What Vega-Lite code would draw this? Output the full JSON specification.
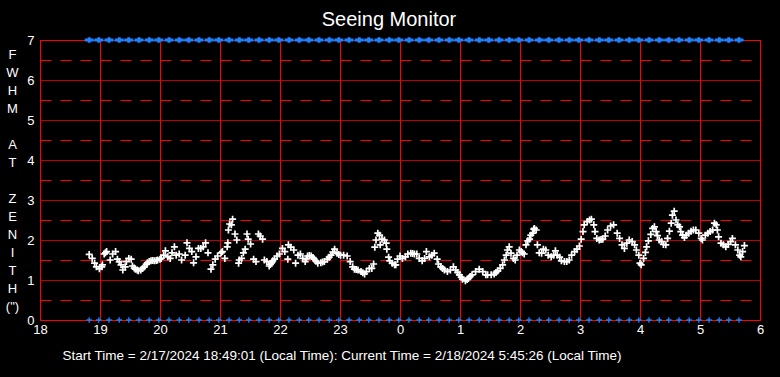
{
  "$schema": "https://vega.github.io/schema/vega-lite/v6.json",
  "width": 720,
  "height": 280,
  "autosize": {"type": "none"},
  "padding": {"left": 40, "top": 40, "right": 20, "bottom": 57},
  "background": "black",
  "title": {"text": "Seeing Monitor", "color": "white", "fontSize": 20, "font": "Liberation Sans", "fontWeight": "normal", "anchor": "middle", "frame": "group", "dx": -11, "offset": 1},
  "config": {
    "view": {"stroke": "#ff0000", "strokeWidth": 1},
    "axis": {"gridColor": "#ff0000", "gridOpacity": 1, "gridWidth": 1, "domainColor": "#ff0000", "ticks": false, "labelColor": "white", "labelFont": "Liberation Sans", "labelFontSize": 13, "titleColor": "white", "titleFont": "Liberation Sans", "titleFontWeight": "normal"}
  },
  "datasets": {
    "seeing": [
      {"t":18.82,"v":1.64},{"t":18.87,"v":1.54},{"t":18.91,"v":1.42},{"t":18.94,"v":1.33},{"t":18.99,"v":1.28},{"t":19.03,"v":1.33},{"t":19.04,"v":1.38},{"t":19.07,"v":1.65},{"t":19.09,"v":1.68},{"t":19.11,"v":1.71},{"t":19.17,"v":1.5},{"t":19.21,"v":1.65},{"t":19.26,"v":1.71},{"t":19.29,"v":1.52},{"t":19.32,"v":1.46},{"t":19.35,"v":1.38},{"t":19.38,"v":1.25},{"t":19.42,"v":1.33},{"t":19.44,"v":1.46},{"t":19.48,"v":1.54},{"t":19.52,"v":1.52},{"t":19.54,"v":1.35},{"t":19.57,"v":1.3},{"t":19.59,"v":1.27},{"t":19.62,"v":1.25},{"t":19.64,"v":1.23},{"t":19.68,"v":1.25},{"t":19.71,"v":1.29},{"t":19.74,"v":1.33},{"t":19.77,"v":1.39},{"t":19.79,"v":1.43},{"t":19.82,"v":1.46},{"t":19.85,"v":1.48},{"t":19.88,"v":1.49},{"t":19.91,"v":1.48},{"t":19.94,"v":1.49},{"t":19.96,"v":1.5},{"t":20.0,"v":1.52},{"t":20.02,"v":1.54},{"t":20.06,"v":1.62},{"t":20.09,"v":1.73},{"t":20.13,"v":1.58},{"t":20.17,"v":1.54},{"t":20.2,"v":1.68},{"t":20.24,"v":1.83},{"t":20.27,"v":1.62},{"t":20.32,"v":1.65},{"t":20.36,"v":1.5},{"t":20.42,"v":1.62},{"t":20.45,"v":1.93},{"t":20.49,"v":1.79},{"t":20.53,"v":1.71},{"t":20.56,"v":1.43},{"t":20.6,"v":1.58},{"t":20.64,"v":1.79},{"t":20.68,"v":1.79},{"t":20.72,"v":1.83},{"t":20.76,"v":1.93},{"t":20.8,"v":1.68},{"t":20.85,"v":1.27},{"t":20.88,"v":1.38},{"t":20.92,"v":1.52},{"t":20.96,"v":1.6},
      {"t":21.02,"v":1.68},{"t":21.04,"v":1.71},{"t":21.08,"v":1.54},{"t":21.12,"v":1.83},{"t":21.13,"v":1.93},{"t":21.14,"v":2.25},{"t":21.16,"v":2.4},{"t":21.19,"v":2.38},{"t":21.21,"v":2.52},{"t":21.25,"v":2.15},{"t":21.28,"v":2.0},{"t":21.31,"v":1.42},{"t":21.32,"v":1.5},{"t":21.36,"v":1.54},{"t":21.39,"v":1.68},{"t":21.42,"v":1.77},{"t":21.45,"v":2.15},{"t":21.47,"v":2.02},{"t":21.51,"v":1.9},{"t":21.56,"v":1.52},{"t":21.6,"v":1.46},{"t":21.64,"v":2.15},{"t":21.67,"v":2.1},{"t":21.71,"v":2.02},{"t":21.74,"v":1.5},{"t":21.78,"v":1.46},{"t":21.82,"v":1.35},{"t":21.84,"v":1.39},{"t":21.86,"v":1.43},{"t":21.88,"v":1.48},{"t":21.91,"v":1.52},{"t":21.95,"v":1.6},{"t":21.99,"v":1.65},{"t":22.04,"v":1.79},{"t":22.08,"v":1.71},{"t":22.13,"v":1.52},{"t":22.14,"v":1.88},{"t":22.18,"v":1.82},{"t":22.23,"v":1.75},{"t":22.26,"v":1.42},{"t":22.3,"v":1.62},{"t":22.34,"v":1.65},{"t":22.38,"v":1.54},{"t":22.42,"v":1.46},{"t":22.44,"v":1.53},{"t":22.46,"v":1.6},{"t":22.49,"v":1.61},{"t":22.52,"v":1.6},{"t":22.55,"v":1.56},{"t":22.57,"v":1.52},{"t":22.6,"v":1.47},{"t":22.63,"v":1.42},{"t":22.68,"v":1.43},{"t":22.71,"v":1.45},{"t":22.74,"v":1.46},{"t":22.79,"v":1.52},{"t":22.82,"v":1.57},{"t":22.85,"v":1.62},{"t":22.88,"v":1.7},{"t":22.91,"v":1.77},{"t":22.95,"v":1.67},{"t":22.98,"v":1.64},{"t":23.01,"v":1.62},{"t":23.06,"v":1.62},{"t":23.12,"v":1.6},{"t":23.17,"v":1.46},{"t":23.21,"v":1.33},
      {"t":23.24,"v":1.27},{"t":23.27,"v":1.26},{"t":23.3,"v":1.25},{"t":23.35,"v":1.21},{"t":23.38,"v":1.18},{"t":23.41,"v":1.15},{"t":23.44,"v":1.21},{"t":23.49,"v":1.29},{"t":23.53,"v":1.29},{"t":23.56,"v":1.4},{"t":23.58,"v":1.82},{"t":23.6,"v":2.0},{"t":23.63,"v":2.17},{"t":23.66,"v":2.12},{"t":23.67,"v":1.88},{"t":23.7,"v":2.02},{"t":23.74,"v":2.0},{"t":23.77,"v":1.92},{"t":23.78,"v":1.77},{"t":23.81,"v":1.57},{"t":23.83,"v":1.48},{"t":23.87,"v":1.42},{"t":23.91,"v":1.38},{"t":23.93,"v":1.38},{"t":23.96,"v":1.52},{"t":24.0,"v":1.6},{"t":24.04,"v":1.54},{"t":24.09,"v":1.58},{"t":24.13,"v":1.65},{"t":24.18,"v":1.67},{"t":24.21,"v":1.66},{"t":24.24,"v":1.65},{"t":24.28,"v":1.65},{"t":24.32,"v":1.54},{"t":24.37,"v":1.48},{"t":24.41,"v":1.54},{"t":24.44,"v":1.71},{"t":24.49,"v":1.58},{"t":24.53,"v":1.62},{"t":24.57,"v":1.67},{"t":24.62,"v":1.52},{"t":24.64,"v":1.4},{"t":24.68,"v":1.33},{"t":24.71,"v":1.29},{"t":24.74,"v":1.25},{"t":24.79,"v":1.21},{"t":24.84,"v":1.25},{"t":24.89,"v":1.33},{"t":24.93,"v":1.25},{"t":24.96,"v":1.19},{"t":24.99,"v":1.13},{"t":25.02,"v":1.07},{"t":25.04,"v":1.02},{"t":25.09,"v":0.98},{"t":25.12,"v":1.01},{"t":25.14,"v":1.04},{"t":25.17,"v":1.09},{"t":25.2,"v":1.13},{"t":25.26,"v":1.21},{"t":25.32,"v":1.27},{"t":25.38,"v":1.21},{"t":25.43,"v":1.13},
      {"t":25.46,"v":1.13},{"t":25.52,"v":1.13},{"t":25.57,"v":1.15},{"t":25.6,"v":1.19},{"t":25.63,"v":1.23},{"t":25.67,"v":1.29},{"t":25.71,"v":1.38},{"t":25.74,"v":1.5},{"t":25.77,"v":1.62},{"t":25.79,"v":1.75},{"t":25.82,"v":1.83},{"t":25.85,"v":1.67},{"t":25.89,"v":1.54},{"t":25.92,"v":1.5},{"t":25.95,"v":1.62},{"t":25.99,"v":1.75},{"t":26.02,"v":1.71},{"t":26.04,"v":1.68},{"t":26.07,"v":1.65},{"t":26.1,"v":1.88},{"t":26.13,"v":1.98},{"t":26.16,"v":2.02},{"t":26.18,"v":2.12},{"t":26.21,"v":2.17},{"t":26.23,"v":2.27},{"t":26.24,"v":2.29},{"t":26.27,"v":2.25},{"t":26.29,"v":1.88},{"t":26.32,"v":1.68},{"t":26.36,"v":1.67},{"t":26.39,"v":1.77},{"t":26.43,"v":1.75},{"t":26.47,"v":1.62},{"t":26.52,"v":1.58},{"t":26.56,"v":1.62},{"t":26.59,"v":1.73},{"t":26.62,"v":1.62},{"t":26.66,"v":1.57},{"t":26.69,"v":1.48},{"t":26.74,"v":1.46},{"t":26.78,"v":1.46},{"t":26.82,"v":1.5},{"t":26.86,"v":1.62},{"t":26.91,"v":1.71},{"t":26.95,"v":1.77},{"t":26.99,"v":1.85},{"t":27.02,"v":2.02},{"t":27.05,"v":2.21},{"t":27.07,"v":2.38},{"t":27.12,"v":2.46},{"t":27.16,"v":2.5},{"t":27.19,"v":2.52},{"t":27.23,"v":2.38},{"t":27.25,"v":2.21},{"t":27.28,"v":2.04},{"t":27.32,"v":2.0},{"t":27.35,"v":2.01},{"t":27.38,"v":2.02},{"t":27.42,"v":2.1},{"t":27.46,"v":2.25},{"t":27.51,"v":2.35},{"t":27.56,"v":2.38},{"t":27.62,"v":2.17},{"t":27.66,"v":2.04},{"t":27.7,"v":1.88},
      {"t":27.74,"v":1.79},{"t":27.78,"v":1.92},{"t":27.82,"v":2.0},{"t":27.87,"v":1.96},{"t":27.91,"v":1.88},{"t":27.94,"v":1.75},{"t":27.98,"v":1.62},{"t":28.0,"v":1.42},{"t":28.02,"v":1.38},{"t":28.06,"v":1.54},{"t":28.09,"v":1.69},{"t":28.11,"v":1.83},{"t":28.14,"v":1.98},{"t":28.18,"v":2.14},{"t":28.21,"v":2.29},{"t":28.24,"v":2.33},{"t":28.27,"v":2.21},{"t":28.29,"v":2.11},{"t":28.32,"v":2.0},{"t":28.36,"v":1.96},{"t":28.39,"v":1.89},{"t":28.43,"v":1.88},{"t":28.46,"v":2.04},{"t":28.49,"v":2.22},{"t":28.52,"v":2.42},{"t":28.54,"v":2.62},{"t":28.57,"v":2.72},{"t":28.6,"v":2.5},{"t":28.63,"v":2.38},{"t":28.66,"v":2.33},{"t":28.68,"v":2.21},{"t":28.71,"v":2.12},{"t":28.74,"v":2.06},{"t":28.77,"v":2.12},{"t":28.81,"v":2.17},{"t":28.85,"v":2.22},{"t":28.89,"v":2.25},{"t":28.93,"v":2.25},{"t":28.98,"v":2.17},{"t":29.02,"v":2.04},{"t":29.04,"v":2.0},{"t":29.09,"v":2.12},{"t":29.13,"v":2.17},{"t":29.17,"v":2.21},{"t":29.21,"v":2.25},{"t":29.24,"v":2.42},{"t":29.27,"v":2.38},{"t":29.29,"v":2.25},{"t":29.31,"v":2.08},{"t":29.35,"v":1.92},{"t":29.39,"v":1.88},{"t":29.43,"v":1.83},{"t":29.47,"v":1.89},{"t":29.51,"v":1.96},{"t":29.54,"v":2.04},{"t":29.59,"v":1.88},{"t":29.63,"v":1.75},{"t":29.66,"v":1.62},{"t":29.68,"v":1.58},{"t":29.71,"v":1.71},{"t":29.74,"v":1.86}
    ],
    "marks": [
      {"t":18.82},{"t":18.98},{"t":19.15},{"t":19.32},{"t":19.48},{"t":19.65},{"t":19.82},{"t":19.98},{"t":20.15},{"t":20.32},{"t":20.48},{"t":20.65},{"t":20.82},{"t":20.98},{"t":21.15},{"t":21.32},{"t":21.48},{"t":21.65},{"t":21.82},{"t":21.98},{"t":22.15},{"t":22.32},{"t":22.48},{"t":22.65},{"t":22.82},{"t":22.98},{"t":23.15},{"t":23.32},{"t":23.48},{"t":23.65},{"t":23.82},{"t":23.98},{"t":24.15},{"t":24.32},{"t":24.48},{"t":24.65},{"t":24.82},{"t":24.98},{"t":25.15},{"t":25.32},{"t":25.48},{"t":25.65},{"t":25.82},{"t":25.98},{"t":26.15},{"t":26.32},{"t":26.48},{"t":26.65},{"t":26.82},{"t":26.98},{"t":27.15},{"t":27.32},{"t":27.48},{"t":27.65},{"t":27.82},{"t":27.98},{"t":28.15},{"t":28.32},{"t":28.48},{"t":28.65},{"t":28.82},{"t":28.98},{"t":29.15},{"t":29.32},{"t":29.48},{"t":29.65}
    ]
  },
  "encoding": {
    "x": {"field": "t", "type": "quantitative", "scale": {"domain": [18, 30], "nice": false, "zero": false},
      "axis": {"values": [18,19,20,21,22,23,24,25,26,27,28,29,30], "labelExpr": "datum.value >= 24 ? '' + (datum.value - 24) : '' + datum.value", "labelFlush": false, "labelOverlap": false, "labelPadding": 3,
        "title": "Start Time = 2/17/2024  18:49:01 (Local Time):  Current Time = 2/18/2024 5:45:26 (Local Time)", "titleFontSize": 13.5, "titleAnchor": "start", "titleX": 22, "titleY": 39, "titleBaseline": "alphabetic"}}
  },
  "layer": [
    {
      "data": {"name": "seeing"},
      "mark": {"type": "point", "shape": "M-1,0H1M0,-1V1", "filled": false, "stroke": "white", "strokeWidth": 1.7, "size": 49, "opacity": 1},
      "encoding": {
        "y": {"field": "v", "type": "quantitative", "scale": {"domain": [0, 7], "nice": false, "zero": true},
          "axis": {"values": [0,0.5,1,1.5,2,2.5,3,3.5,4,4.5,5,5.5,6,6.5,7], "labelExpr": "datum.value % 1 === 0 ? '' + datum.value : ''", "labelOverlap": false, "labelPadding": 6, "labelBaseline": "middle",
            "gridDash": {"condition": {"test": "datum.value % 1 !== 0", "value": [11, 9]}, "value": [1, 0]},
            "title": ["F","W","H","M","\u200b","A","T","\u200b","Z","E","N","I","T","H","(\")"], "titleAngle": 0, "titleAlign": "center", "titleBaseline": "top", "titleX": -28, "titleY": 8, "titleLineHeight": 18, "titleFontSize": 13}}
      }
    },
    {
      "data": {"name": "marks"},
      "mark": {"type": "point", "shape": "M-1,0H1M0,-0.6V0.6", "filled": false, "stroke": "#1e82ff", "strokeWidth": 3, "size": 81, "opacity": 1, "strokeCap": "butt"},
      "encoding": {
        "y": {"datum": 7, "type": "quantitative",
          "axis": {"values": [0,0.5,1,1.5,2,2.5,3,3.5,4,4.5,5,5.5,6,6.5,7], "labelExpr": "datum.value % 1 === 0 ? '' + datum.value : ''", "labelOverlap": false, "labelPadding": 6, "labelBaseline": "middle",
            "gridDash": {"condition": {"test": "datum.value % 1 !== 0", "value": [11, 9]}, "value": [1, 0]},
            "title": ["F","W","H","M","\u200b","A","T","\u200b","Z","E","N","I","T","H","(\")"], "titleAngle": 0, "titleAlign": "center", "titleBaseline": "top", "titleX": -28, "titleY": 8, "titleLineHeight": 18, "titleFontSize": 13}}
      }
    },
    {
      "data": {"name": "marks"},
      "mark": {"type": "point", "shape": "M-1,0H1M0,-1V1", "filled": false, "stroke": "#1e82ff", "strokeWidth": 1.3, "size": 30, "opacity": 1},
      "encoding": {
        "y": {"datum": 0, "type": "quantitative",
          "axis": {"values": [0,0.5,1,1.5,2,2.5,3,3.5,4,4.5,5,5.5,6,6.5,7], "labelExpr": "datum.value % 1 === 0 ? '' + datum.value : ''", "labelOverlap": false, "labelPadding": 6, "labelBaseline": "middle",
            "gridDash": {"condition": {"test": "datum.value % 1 !== 0", "value": [11, 9]}, "value": [1, 0]},
            "title": ["F","W","H","M","\u200b","A","T","\u200b","Z","E","N","I","T","H","(\")"], "titleAngle": 0, "titleAlign": "center", "titleBaseline": "top", "titleX": -28, "titleY": 8, "titleLineHeight": 18, "titleFontSize": 13}}
      }
    }
  ]
}
